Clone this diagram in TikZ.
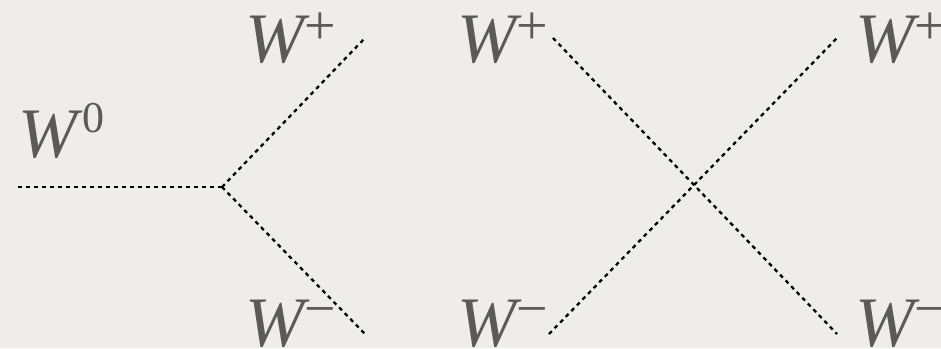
\documentclass[tikz,border=0pt]{standalone}
\usepackage{fontspec}
\setmainfont{Liberation Serif}
\definecolor{paper}{HTML}{EEEDEA}
\definecolor{labelgray}{HTML}{5A5A58}
\newcommand{\bigW}{{\fontsize{71}{71}\selectfont\itshape W}}
\newcommand{\supr}[4]{\kern#1pt\raisebox{#2pt}{\fontsize{#3}{#3}\selectfont #4}}
\begin{document}
\begin{tikzpicture}[x=1pt,y=-1pt,
  prop/.style={draw=black,line width=2.3pt,dash pattern=on 4pt off 4pt},
  lbl/.style={text=labelgray,inner sep=0pt,anchor=base west}]
\fill[paper] (0,0) rectangle (941,348);
\useasboundingbox (0,0) rectangle (941,348);
\clip (0,0) rectangle (941,348);
% vertices and ends
\coordinate (in) at (18,187);
\coordinate (v1) at (222,187);
\coordinate (v1p) at (365,38);
\coordinate (v1m) at (365,334);
\coordinate (xtl) at (553,38);
\coordinate (xbr) at (837,334);
\coordinate (xbl) at (549,334);
\coordinate (xtr) at (837,38);
% propagators
\draw[prop] (in) -- (v1);
\draw[prop] (v1) -- (v1p);
\draw[prop] (v1) -- (v1m);
\draw[prop] (xtl) -- (xbr);
\draw[prop] (xbl) -- (xtr);
% labels
\node[lbl] (l0) at (18,157) {\bigW\supr{5}{25}{44}{0}};
\node[lbl] (lp1) at (245,62) {\bigW\supr{0}{18}{56}{+}};
\node[lbl] (lp2) at (457,62) {\bigW\supr{0}{18}{56}{+}};
\node[lbl] (lp3) at (855,62) {\bigW\supr{0}{18}{56}{+}};
\node[lbl] (lm1) at (245,346) {\bigW\supr{0}{19}{56}{−}};
\node[lbl] (lm2) at (457,346) {\bigW\supr{0}{19}{56}{−}};
\node[lbl] (lm3) at (855,346) {\bigW\supr{0}{19}{56}{−}};
\end{tikzpicture}
\end{document}
